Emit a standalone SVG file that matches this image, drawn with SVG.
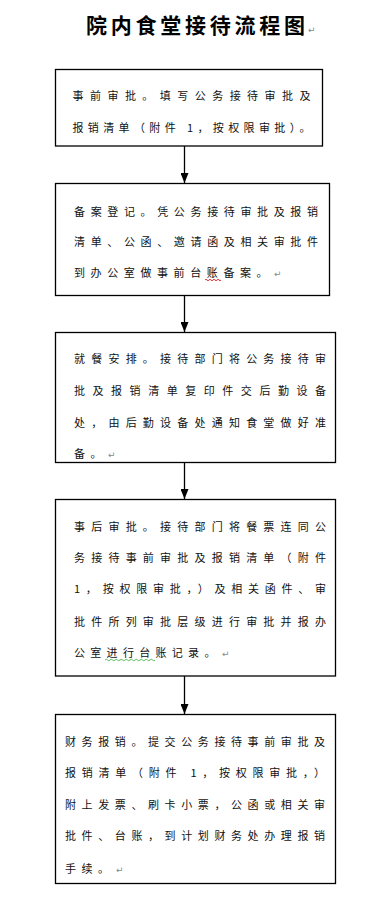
<svg xmlns="http://www.w3.org/2000/svg" width="386" height="912" viewBox="0 0 386 912">
<defs>
<style>
.box{fill:#fff;stroke:#000;stroke-width:1.3}
.t{font-family:"Noto Sans CJK SC","DejaVu Sans",sans-serif;font-size:11px;fill:#111}
.ttl{font-family:"Noto Sans CJK SC",sans-serif;font-size:21px;font-weight:bold;fill:#000}
.pm{font-family:"DejaVu Sans",sans-serif;font-size:9px;fill:#888}
.con{stroke:#000;stroke-width:1.3;fill:none}
</style>
<marker id="ah" markerWidth="10" markerHeight="8" refX="10" refY="4" orient="auto" markerUnits="userSpaceOnUse" viewBox="0 0 10 8">
<path d="M0,0 L10,4 L0,8 Z" fill="#000"/>
</marker>
</defs>
<rect width="386" height="912" fill="#fff"/>
<g id="title">
<text class="ttl" x="86" y="33" textLength="219" lengthAdjust="spacing">院内食堂接待流程图</text>
<text class="pm" x="308" y="33">↵</text>
</g>
<g id="connectors">
<line class="con" x1="184.5" y1="146" x2="184.5" y2="183" marker-end="url(#ah)"/>
<line class="con" x1="184.5" y1="296" x2="184.5" y2="332" marker-end="url(#ah)"/>
<line class="con" x1="184.5" y1="462" x2="184.5" y2="499" marker-end="url(#ah)"/>
<line class="con" x1="184.5" y1="676" x2="184.5" y2="714" marker-end="url(#ah)"/>
</g>
<g id="n1">
<rect class="box" x="55.5" y="69.5" width="267" height="76.5"/>
<text class="t" x="72.5" y="100" textLength="238" lengthAdjust="spacing">事前审批。填写公务接待审批及</text>
<text class="t" x="72.5" y="131.5" textLength="238" lengthAdjust="spacing">报销清单（附件 1，按权限审批）。</text>
</g>
<g id="n2">
<rect class="box" x="55.5" y="183.5" width="274" height="112"/>
<text class="t" x="74" y="215.5" textLength="244" lengthAdjust="spacing">备案登记。凭公务接待审批及报销</text>
<text class="t" x="74" y="245.5" textLength="244" lengthAdjust="spacing">清单、公函、邀请函及相关审批件</text>
<text class="t" x="74" y="277" letter-spacing="5.6">到办公室做事前台账备案。</text>
<text class="pm" x="274" y="277">↵</text>
<path d="M205,280 q1,-1.5 2,0 t2,0 t2,0 t2,0 t2,0 t2,0 t2,0 t2,0" stroke="#d00" stroke-width="0.8" fill="none"/>
</g>
<g id="n3">
<rect class="box" x="55.5" y="332.5" width="280" height="130"/>
<text class="t" x="74" y="363" textLength="252" lengthAdjust="spacing">就餐安排。接待部门将公务接待审</text>
<text class="t" x="74" y="395" textLength="252" lengthAdjust="spacing">批及报销清单复印件交后勤设备</text>
<text class="t" x="74" y="427" textLength="252" lengthAdjust="spacing">处，由后勤设备处通知食堂做好准</text>
<text class="t" x="74" y="458" letter-spacing="5.5">备。</text>
<text class="pm" x="108" y="458">↵</text>
</g>
<g id="n4">
<rect class="box" x="55.5" y="499.5" width="280" height="176.5"/>
<text class="t" x="74" y="530.5" textLength="252" lengthAdjust="spacing">事后审批。接待部门将餐票连同公</text>
<text class="t" x="74" y="561.5" textLength="252" lengthAdjust="spacing">务接待事前审批及报销清单（附件</text>
<text class="t" x="74" y="593" textLength="252" lengthAdjust="spacing">1，按权限审批，）及相关函件、审</text>
<text class="t" x="74" y="625.5" textLength="252" lengthAdjust="spacing">批件所列审批层级进行审批并报办</text>
<text class="t" x="74" y="656.5" letter-spacing="5.3">公室进行台账记录。</text>
<text class="pm" x="222" y="656.5">↵</text>
<path d="M105,660 q1.25,-1.5 2.5,0 t2.5,0 t2.5,0 t2.5,0 t2.5,0 t2.5,0 t2.5,0 t2.5,0 t2.5,0 t2.5,0 t2.5,0 t2.5,0 t2.5,0 t2.5,0 t2.5,0 t2.5,0 t2.5,0 t2.5,0 t2.5,0 t2.5,0" stroke="#3a3" stroke-width="0.8" fill="none"/>
</g>
<g id="n5">
<rect class="box" x="55.5" y="714.5" width="280" height="169"/>
<text class="t" x="65" y="745.5" textLength="260" lengthAdjust="spacing">财务报销。提交公务接待事前审批及</text>
<text class="t" x="65" y="777" textLength="260" lengthAdjust="spacing">报销清单（附件 1，按权限审批，）</text>
<text class="t" x="65" y="809" textLength="260" lengthAdjust="spacing">附上发票、刷卡小票，公函或相关审</text>
<text class="t" x="65" y="840" textLength="260" lengthAdjust="spacing">批件、台账，到计划财务处办理报销</text>
<text class="t" x="65" y="873" letter-spacing="5.5">手续。</text>
<text class="pm" x="116" y="873">↵</text>
</g>
</svg>
